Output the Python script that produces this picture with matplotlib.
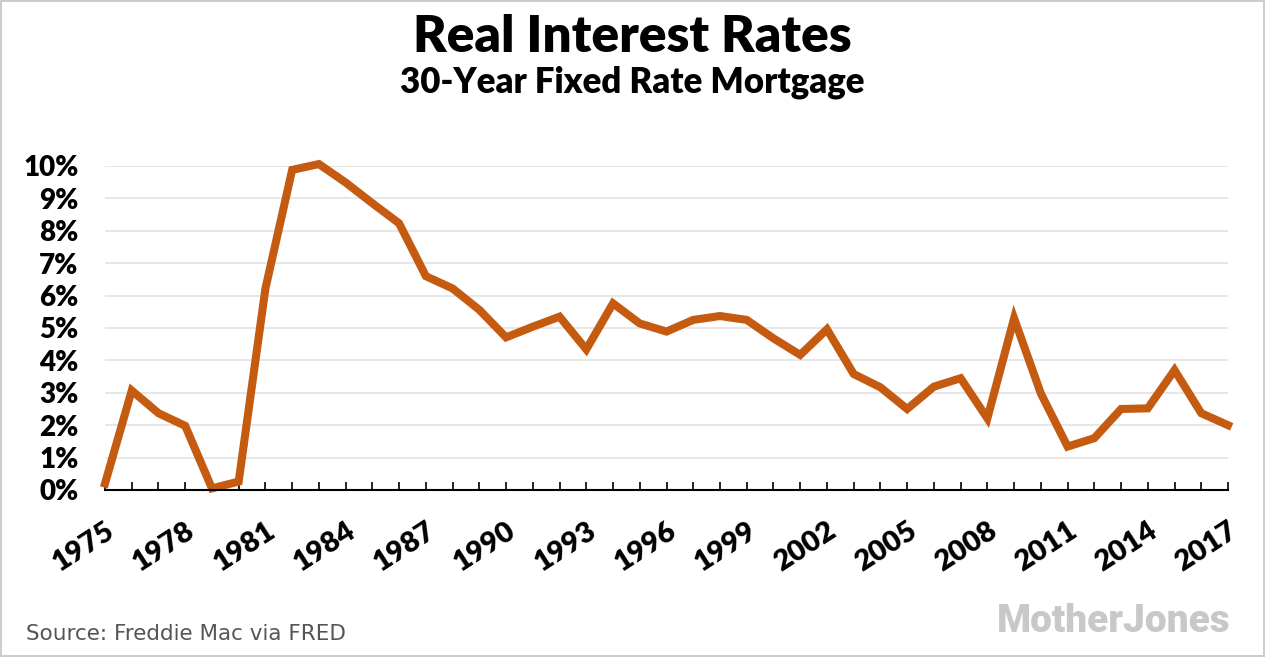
import numpy as np
import matplotlib.pyplot as plt

years = list(range(1975, 2018))
rates = [0.2, 3.07, 2.37, 1.98, 0.05, 0.26, 6.22, 9.88, 10.06, 9.49,
         8.85, 8.23, 6.6, 6.22, 5.56, 4.71, 5.04, 5.35, 4.34, 5.76,
         5.14, 4.89, 5.25, 5.37, 5.25, 4.68, 4.17, 4.96, 3.58, 3.17,
         2.5, 3.19, 3.45, 2.21, 5.3, 2.98, 1.34, 1.6, 2.5, 2.52,
         3.7, 2.37, 2.0]
label_years = list(range(1975, 2018, 3))
y_ticks = list(range(0, 11))

line_color = '#c55a11'
bold_font = ['Lato', 'DejaVu Sans']

fig = plt.figure(figsize=(12.65, 6.57), dpi=100)
fig.patch.set_edgecolor('#cccccc')
fig.patch.set_linewidth(1.5)
ax = fig.add_axes([105/1265, 1-490/657, (1228-105)/1265, (490-166)/657])

ax.plot(years, rates, color=line_color, lw=5.8, solid_joinstyle='miter', clip_on=False, zorder=3)

ax.set_xlim(1975, 2017)
ax.set_ylim(0, 10)
ax.set_yticks(y_ticks)
ax.set_yticklabels([f'{v}%' for v in y_ticks], fontsize=20, fontweight='heavy', family=bold_font)
ax.set_xticks(years)
ax.set_xticklabels([str(y) if y in label_years else '' for y in years],
                   fontsize=21, fontweight='heavy', family=bold_font,
                   rotation=33, ha='right', va='top', rotation_mode='anchor')
ax.tick_params(axis='x', direction='in', length=6, width=1.2, color='black', pad=20)
ax.tick_params(axis='y', length=0, pad=19)
ax.grid(axis='y', color='#e3e3e3', lw=1.2)
ax.set_axisbelow(True)
for s in ['top', 'right', 'left']:
    ax.spines[s].set_visible(False)
ax.spines['bottom'].set_linewidth(1.5)
ax.spines['bottom'].set_zorder(4)

fig.text(0.5, 1-37/657, 'Real Interest Rates', ha='center', va='center',
         fontsize=37, fontweight='heavy', family=bold_font)
fig.text(0.5, 1-82/657, '30-Year Fixed Rate Mortgage', ha='center', va='center',
         fontsize=25, fontweight='heavy', family=bold_font)
fig.text(26/1265, 1-634/657, 'Source: Freddie Mac via FRED', ha='left', va='center',
         fontsize=15.5, color='#555555', family='DejaVu Sans')
fig.text(1230/1265, 1-621/657, 'MotherJones', ha='right', va='center',
         fontsize=28, fontweight='heavy', color='#c8c8c8',
         family=['Liberation Sans Narrow', 'Roboto', 'DejaVu Sans'])

fig.savefig('out.png', dpi=100)
